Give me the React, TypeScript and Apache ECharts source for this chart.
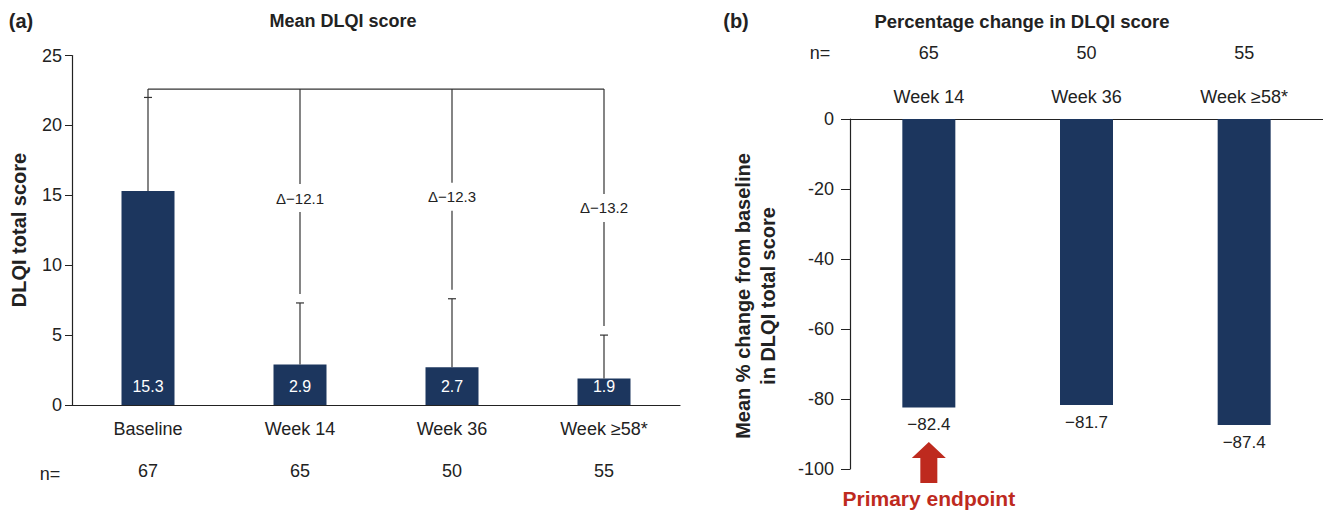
import React, { useEffect, useRef } from "react";
import * as echarts from "echarts";

// ---- data ----
const categoriesA = ["Baseline", "Week 14", "Week 36", "Week \u226558*"];
const meanScores = [15.3, 2.9, 2.7, 1.9];
const errorTops = [22.0, 7.3, 7.6, 5.0];
const nA = ["67", "65", "50", "55"];
const deltaLabels = ["", "\u0394\u221212.1", "\u0394\u221212.3", "\u0394\u221213.2"];
const deltaLabelY = [0, 14.8, 14.9, 14.1];
const bracketY = 22.6;

const categoriesB = ["Week 14", "Week 36", "Week \u226558*"];
const pctChange = [-82.4, -81.7, -87.4];
const nB = ["65", "50", "55"];

const FONT = '"Liberation Sans", Arial, Helvetica, sans-serif';
const NAVY = "#1c365e";
const RED = "#be2a1e";
const INK = "#222";

export default function App() {
  const ref = useRef<HTMLDivElement>(null);
  useEffect(() => {
    if (!ref.current) return;
    const chart = echarts.init(ref.current, null, { renderer: "svg" });

    const errData = meanScores.map((v, i) => [i, v, errorTops[i]]);
    const bracketData = errorTops.map((e, i) => [i, e, deltaLabelY[i]]);
    const lineStyle = { stroke: "#333", lineWidth: 1.2 };

    const option: any = {
      animation: false,
      textStyle: { fontFamily: FONT },
      grid: [
        { left: 72, top: 55.5, width: 608, height: 349.5 },
        { left: 850, top: 119, width: 500, height: 350 },
      ],
      xAxis: [
        {
          gridIndex: 0,
          type: "category",
          data: categoriesA,
          axisLine: { lineStyle: { color: INK, width: 1.2 } },
          axisTick: { show: false },
          axisLabel: { fontSize: 18, color: INK, margin: 15 },
        },
        {
          gridIndex: 0,
          type: "category",
          data: nA,
          position: "bottom",
          offset: 42,
          axisLine: { show: false, onZero: false },
          axisTick: { show: false },
          axisLabel: { fontSize: 18, color: INK, margin: 15 },
        },
        {
          gridIndex: 1,
          type: "category",
          data: categoriesB,
          position: "top",
          axisLine: { lineStyle: { color: INK, width: 1.2 } },
          axisTick: { show: false },
          axisLabel: { fontSize: 18, color: INK, margin: 13 },
        },
        {
          gridIndex: 1,
          type: "category",
          data: nB,
          position: "top",
          offset: 44,
          axisLine: { show: false, onZero: false },
          axisTick: { show: false },
          axisLabel: { fontSize: 18, color: INK, margin: 13 },
        },
      ],
      yAxis: [
        {
          gridIndex: 0,
          type: "value",
          min: 0,
          max: 25,
          interval: 5,
          axisLine: { show: true, lineStyle: { color: INK, width: 1.2 } },
          axisTick: { show: true, length: 7, lineStyle: { color: INK } },
          splitLine: { show: false },
          axisLabel: { fontSize: 18, color: INK, margin: 10 },
        },
        {
          gridIndex: 1,
          type: "value",
          min: -100,
          max: 0,
          interval: 20,
          axisLine: { show: true, lineStyle: { color: INK, width: 1.2 } },
          axisTick: { show: true, length: 9, lineStyle: { color: INK } },
          splitLine: { show: false },
          axisLabel: { fontSize: 18, color: INK, margin: 16 },
        },
      ],
      series: [
        {
          type: "bar",
          xAxisIndex: 0,
          yAxisIndex: 0,
          data: meanScores,
          barWidth: 53,
          itemStyle: { color: NAVY },
          label: {
            show: true,
            position: "insideBottom",
            distance: 11,
            color: "#fff",
            fontSize: 16,
            formatter: (p: any) => Number(p.value).toFixed(1),
          },
        },
        {
          type: "custom",
          xAxisIndex: 0,
          yAxisIndex: 0,
          data: errData,
          encode: { x: 0, y: 1 },
          clip: false,
          z: 5,
          renderItem: (params: any, api: any) => {
            const x = api.value(0);
            const p0 = api.coord([x, api.value(1)]);
            const p1 = api.coord([x, api.value(2)]);
            return {
              type: "group",
              children: [
                { type: "line", shape: { x1: p0[0], y1: p0[1], x2: p1[0], y2: p1[1] }, style: lineStyle },
                { type: "line", shape: { x1: p1[0] - 4, y1: p1[1], x2: p1[0] + 4, y2: p1[1] }, style: lineStyle },
              ],
            };
          },
        },
        {
          type: "custom",
          xAxisIndex: 0,
          yAxisIndex: 0,
          data: bracketData,
          encode: { x: 0, y: 1 },
          clip: false,
          z: 5,
          renderItem: (params: any, api: any) => {
            const i = params.dataIndex;
            const x = api.value(0);
            const top = api.coord([x, bracketY]);
            const err = api.coord([x, api.value(1)]);
            if (i === 0) {
              const end = api.coord([categoriesA.length - 1, bracketY]);
              return {
                type: "group",
                children: [
                  { type: "line", shape: { x1: top[0], y1: top[1], x2: end[0], y2: end[1] }, style: lineStyle },
                  { type: "line", shape: { x1: top[0], y1: top[1], x2: err[0], y2: err[1] }, style: lineStyle },
                ],
              };
            }
            const lab = api.coord([x, api.value(2)]);
            const gap = 14;
            return {
              type: "group",
              children: [
                { type: "line", shape: { x1: top[0], y1: top[1], x2: lab[0], y2: lab[1] - gap }, style: lineStyle },
                { type: "line", shape: { x1: lab[0], y1: lab[1] + gap, x2: err[0], y2: err[1] - 9 }, style: lineStyle },
                {
                  type: "text",
                  x: lab[0],
                  y: lab[1],
                  style: {
                    text: deltaLabels[i],
                    fill: INK,
                    font: `15px ${FONT}`,
                    align: "center",
                    verticalAlign: "middle",
                  },
                },
              ],
            };
          },
        },
        {
          type: "bar",
          xAxisIndex: 2,
          yAxisIndex: 1,
          data: pctChange,
          barWidth: 53,
          itemStyle: { color: NAVY },
          label: {
            show: true,
            position: "bottom",
            distance: 9,
            color: INK,
            fontSize: 17,
            formatter: (p: any) => Number(p.value).toFixed(1).replace("-", "\u2212"),
          },
        },
      ],
    };
    chart.setOption(option);

    const bx = chart.convertToPixel({ xAxisIndex: 2 }, categoriesB[0]) as number;
    const text = (t: string, x: number, y: number, font: string, fill = INK, extra: any = {}) => ({
      type: "text",
      x,
      y,
      ...extra,
      style: { text: t, font, fill, align: "center", verticalAlign: "middle" },
    });
    chart.setOption({
      graphic: [
        text("(a)", 21, 21, `bold 20px ${FONT}`),
        text("Mean DLQI score", 343, 21, `bold 18px ${FONT}`),
        text("(b)", 736, 21, `bold 20px ${FONT}`),
        text("Percentage change in DLQI score", 1022, 21, `bold 18.5px ${FONT}`),
        text("n=", 50, 474, `18px ${FONT}`),
        text("n=", 820, 53, `18px ${FONT}`),
        text("DLQI total score", 19, 230, `bold 20px ${FONT}`, INK, { rotation: Math.PI / 2 }),
        {
          type: "text",
          x: 755,
          y: 296,
          rotation: Math.PI / 2,
          style: {
            text: "Mean % change from baseline\nin DLQI total score",
            font: `bold 20px ${FONT}`,
            fill: INK,
            align: "center",
            verticalAlign: "middle",
            lineHeight: 25,
          },
        },
        {
          type: "polygon",
          shape: {
            points: [
              [bx, 442],
              [bx + 17, 458],
              [bx + 8.5, 458],
              [bx + 8.5, 483],
              [bx - 8.5, 483],
              [bx - 8.5, 458],
              [bx - 17, 458],
            ],
          },
          style: { fill: RED },
        },
        text("Primary endpoint", bx, 498, `bold 21px ${FONT}`, RED),
      ],
    });

    return () => chart.dispose();
  }, []);

  return (
    <div
      ref={ref}
      style={{ position: "absolute", left: 0, top: 0, width: 1323, height: 513, background: "#fff" }}
    />
  );
}
